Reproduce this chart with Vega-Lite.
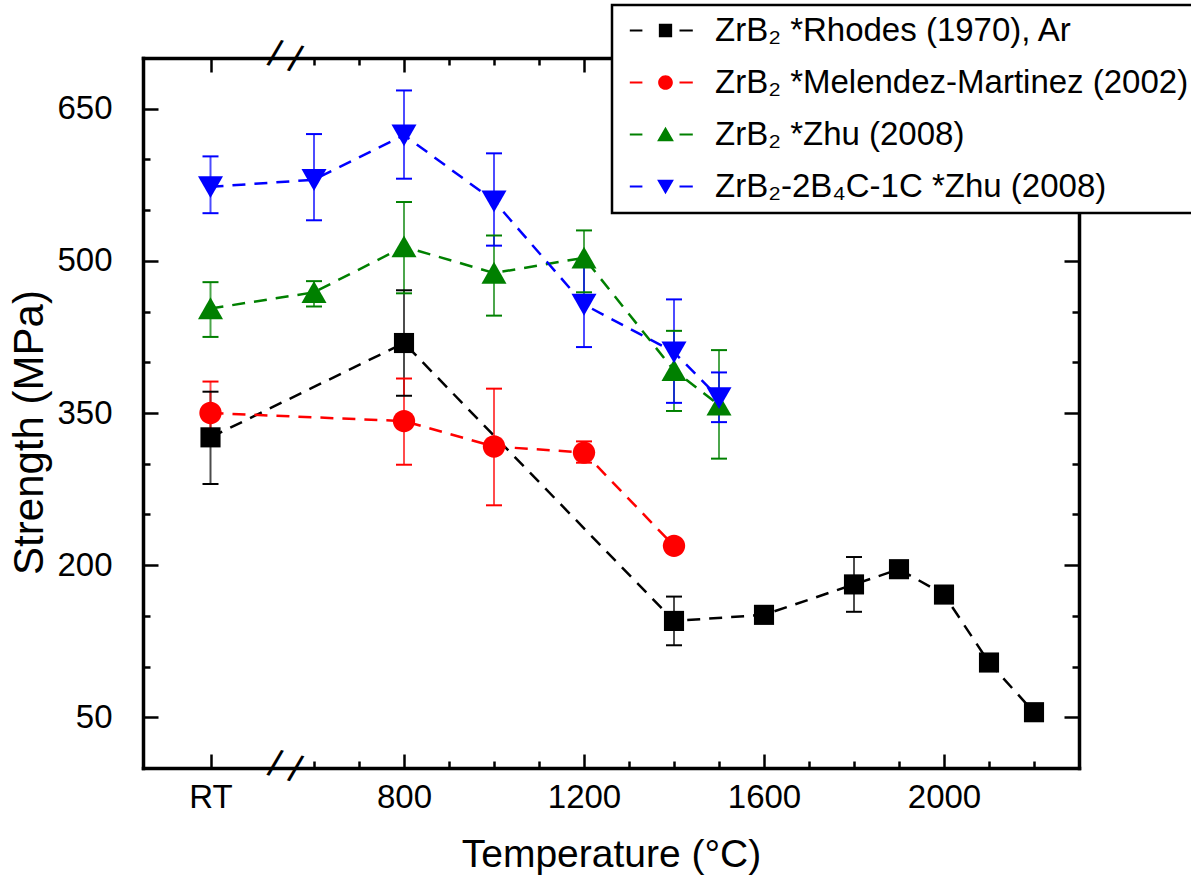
{
  "$schema": "https://vega.github.io/schema/vega-lite/v6.json",
  "width": 936,
  "height": 710,
  "autosize": {"type": "none"},
  "padding": {"left": 143, "top": 58, "right": 112, "bottom": 111},
  "background": "white",
  "config": {"view": {"stroke": null}, "font": "Liberation Sans"},
  "data": {"values": [
    {"series": "ZrB₂ *Rhodes (1970), Ar", "T": 370, "MPa": 326, "lo": 280, "hi": 371},
    {"series": "ZrB₂ *Rhodes (1970), Ar", "T": 800, "MPa": 419, "lo": 367, "hi": 471},
    {"series": "ZrB₂ *Rhodes (1970), Ar", "T": 1400, "MPa": 145, "lo": 121, "hi": 169},
    {"series": "ZrB₂ *Rhodes (1970), Ar", "T": 1600, "MPa": 151, "lo": null, "hi": null},
    {"series": "ZrB₂ *Rhodes (1970), Ar", "T": 1800, "MPa": 181, "lo": 154, "hi": 208},
    {"series": "ZrB₂ *Rhodes (1970), Ar", "T": 1900, "MPa": 196, "lo": null, "hi": null},
    {"series": "ZrB₂ *Rhodes (1970), Ar", "T": 2000, "MPa": 171, "lo": null, "hi": null},
    {"series": "ZrB₂ *Rhodes (1970), Ar", "T": 2100, "MPa": 104, "lo": null, "hi": null},
    {"series": "ZrB₂ *Rhodes (1970), Ar", "T": 2200, "MPa": 55, "lo": null, "hi": null},
    {"series": "ZrB₂ *Melendez-Martinez (2002)", "T": 370, "MPa": 350, "lo": 319, "hi": 381},
    {"series": "ZrB₂ *Melendez-Martinez (2002)", "T": 800, "MPa": 342, "lo": 299, "hi": 384},
    {"series": "ZrB₂ *Melendez-Martinez (2002)", "T": 1000, "MPa": 317, "lo": 259, "hi": 374},
    {"series": "ZrB₂ *Melendez-Martinez (2002)", "T": 1200, "MPa": 311, "lo": 301, "hi": 322},
    {"series": "ZrB₂ *Melendez-Martinez (2002)", "T": 1400, "MPa": 219, "lo": null, "hi": null},
    {"series": "ZrB₂ *Zhu (2008)", "T": 370, "MPa": 453, "lo": 425, "hi": 479},
    {"series": "ZrB₂ *Zhu (2008)", "T": 600, "MPa": 469, "lo": 455, "hi": 480},
    {"series": "ZrB₂ *Zhu (2008)", "T": 800, "MPa": 514, "lo": 468, "hi": 558},
    {"series": "ZrB₂ *Zhu (2008)", "T": 1000, "MPa": 488, "lo": 446, "hi": 525},
    {"series": "ZrB₂ *Zhu (2008)", "T": 1200, "MPa": 503, "lo": 469, "hi": 530},
    {"series": "ZrB₂ *Zhu (2008)", "T": 1400, "MPa": 392, "lo": 352, "hi": 431},
    {"series": "ZrB₂ *Zhu (2008)", "T": 1500, "MPa": 358, "lo": 305, "hi": 412},
    {"series": "ZrB₂-2B₄C-1C *Zhu (2008)", "T": 370, "MPa": 573, "lo": 547, "hi": 603},
    {"series": "ZrB₂-2B₄C-1C *Zhu (2008)", "T": 600, "MPa": 580, "lo": 540, "hi": 625},
    {"series": "ZrB₂-2B₄C-1C *Zhu (2008)", "T": 800, "MPa": 624, "lo": 581, "hi": 668},
    {"series": "ZrB₂-2B₄C-1C *Zhu (2008)", "T": 1000, "MPa": 559, "lo": 515, "hi": 606},
    {"series": "ZrB₂-2B₄C-1C *Zhu (2008)", "T": 1200, "MPa": 457, "lo": 415, "hi": 499},
    {"series": "ZrB₂-2B₄C-1C *Zhu (2008)", "T": 1400, "MPa": 410, "lo": 360, "hi": 462},
    {"series": "ZrB₂-2B₄C-1C *Zhu (2008)", "T": 1500, "MPa": 365, "lo": 341, "hi": 390}
  ]},
  "resolve": {
    "axis": {"x": "independent", "y": "independent"},
    "scale": {"color": "independent", "shape": "independent"}
  },
  "layer": [
    {
      "mark": {"type": "line", "strokeDash": [13, 9], "strokeWidth": 2.5},
      "encoding": {
        "x": {"field": "T", "type": "quantitative",
          "scale": {"domain": [220, 2300], "nice": false, "zero": false},
          "axis": {"orient": "bottom", "values": [370, 600, 700, 800, 900, 1000, 1100, 1200, 1300, 1400, 1500, 1600, 1700, 1800, 1900, 2000, 2100, 2200],
            "labelExpr": "datum.value == 370 ? 'RT' : (datum.value % 400 == 0 ? '' + datum.value : '')",
            "labelFont": "Liberation Sans", "labelFontSize": 33, "labelColor": "black", "labelPadding": 27,
            "labelFlush": false, "labelOverlap": false,
            "tickSize": {"condition": {"test": "datum.value == 370 || datum.value % 400 == 0", "value": -14}, "value": -7},
            "tickColor": "black", "tickWidth": 2.5,
            "domainColor": "black", "domainWidth": 3.5, "domainCap": "square", "grid": false,
            "title": "Temperature (°C)", "titleFont": "Liberation Sans", "titleFontSize": 39, "titleFontWeight": "normal", "titleColor": "black", "titlePadding": 14, "zindex": 1}},
        "y": {"field": "MPa", "type": "quantitative",
          "scale": {"domain": [0, 700], "nice": false, "zero": false},
          "axis": {"orient": "left", "values": [50, 100, 150, 200, 250, 300, 350, 400, 450, 500, 550, 600, 650],
            "labelExpr": "(datum.value - 50) % 150 == 0 ? '' + datum.value : ''",
            "labelFont": "Liberation Sans", "labelFontSize": 33, "labelColor": "black", "labelPadding": 46,
            "labelFlush": false, "labelOverlap": false,
            "tickSize": {"condition": {"test": "(datum.value - 50) % 150 == 0", "value": -15}, "value": -7},
            "tickColor": "black", "tickWidth": 2.5,
            "domainColor": "black", "domainWidth": 3.5, "domainCap": "square", "grid": false,
            "title": "Strength (MPa)", "titleFont": "Liberation Sans", "titleFontSize": 42, "titleFontWeight": "normal", "titleColor": "black", "titlePadding": 5, "titleY": 374, "zindex": 1}},
        "color": {"field": "series", "type": "nominal",
          "scale": {"domain": ["ZrB₂ *Rhodes (1970), Ar", "ZrB₂ *Melendez-Martinez (2002)", "ZrB₂ *Zhu (2008)", "ZrB₂-2B₄C-1C *Zhu (2008)"], "range": ["#000000", "#ff0000", "#008000", "#0000ff"]},
          "legend": null}
      }
    },
    {
      "transform": [{"filter": "datum.lo != null"}],
      "mark": {"type": "rule", "strokeWidth": 2, "opacity": 0.7},
      "encoding": {
        "x": {"field": "T", "type": "quantitative", "axis": null},
        "y": {"field": "lo", "type": "quantitative", "axis": null},
        "y2": {"field": "hi"},
        "color": {"field": "series", "type": "nominal",
          "scale": {"domain": ["ZrB₂ *Rhodes (1970), Ar", "ZrB₂ *Melendez-Martinez (2002)", "ZrB₂ *Zhu (2008)", "ZrB₂-2B₄C-1C *Zhu (2008)"], "range": ["#000000", "#ff0000", "#008000", "#0000ff"]},
          "legend": null}
      }
    },
    {
      "transform": [{"filter": "datum.lo != null"}],
      "mark": {"type": "tick", "orient": "horizontal", "size": 16, "thickness": 2, "opacity": 1},
      "encoding": {
        "x": {"field": "T", "type": "quantitative", "axis": null},
        "y": {"field": "lo", "type": "quantitative", "axis": null},
        "color": {"field": "series", "type": "nominal",
          "scale": {"domain": ["ZrB₂ *Rhodes (1970), Ar", "ZrB₂ *Melendez-Martinez (2002)", "ZrB₂ *Zhu (2008)", "ZrB₂-2B₄C-1C *Zhu (2008)"], "range": ["#000000", "#ff0000", "#008000", "#0000ff"]},
          "legend": null}
      }
    },
    {
      "transform": [{"filter": "datum.hi != null"}],
      "mark": {"type": "tick", "orient": "horizontal", "size": 16, "thickness": 2, "opacity": 1},
      "encoding": {
        "x": {"field": "T", "type": "quantitative", "axis": null},
        "y": {"field": "hi", "type": "quantitative", "axis": null},
        "color": {"field": "series", "type": "nominal",
          "scale": {"domain": ["ZrB₂ *Rhodes (1970), Ar", "ZrB₂ *Melendez-Martinez (2002)", "ZrB₂ *Zhu (2008)", "ZrB₂-2B₄C-1C *Zhu (2008)"], "range": ["#000000", "#ff0000", "#008000", "#0000ff"]},
          "legend": null}
      }
    },
    {
      "mark": {"type": "point", "filled": true, "size": 500, "opacity": 1, "strokeWidth": 0},
      "encoding": {
        "x": {"field": "T", "type": "quantitative",
          "axis": {"orient": "top", "values": [370, 600, 700, 800, 900, 1000, 1100, 1200, 1300, 1400, 1500, 1600, 1700, 1800, 1900, 2000, 2100, 2200],
            "labels": false, "title": null,
            "tickSize": {"condition": {"test": "datum.value == 370 || datum.value % 400 == 0", "value": -14}, "value": -7},
            "tickColor": "black", "tickWidth": 2.5,
            "domainColor": "black", "domainWidth": 3.5, "domainCap": "square", "grid": false, "zindex": 1}},
        "y": {"field": "MPa", "type": "quantitative",
          "axis": {"orient": "right", "values": [50, 100, 150, 200, 250, 300, 350, 400, 450, 500, 550, 600, 650],
            "labels": false, "title": null,
            "tickSize": {"condition": {"test": "(datum.value - 50) % 150 == 0", "value": -15}, "value": -7},
            "tickColor": "black", "tickWidth": 2.5,
            "domainColor": "black", "domainWidth": 3.5, "domainCap": "square", "grid": false, "zindex": 1}},
        "color": {"field": "series", "type": "nominal",
          "scale": {"domain": ["ZrB₂ *Rhodes (1970), Ar", "ZrB₂ *Melendez-Martinez (2002)", "ZrB₂ *Zhu (2008)", "ZrB₂-2B₄C-1C *Zhu (2008)"], "range": ["#000000", "#ff0000", "#008000", "#0000ff"]},
          "legend": null},
        "shape": {"field": "series", "type": "nominal",
          "scale": {"domain": ["ZrB₂ *Rhodes (1970), Ar", "ZrB₂ *Melendez-Martinez (2002)", "ZrB₂ *Zhu (2008)", "ZrB₂-2B₄C-1C *Zhu (2008)"],
            "range": ["M-0.9,-0.9H0.9V0.9H-0.9Z", "M-1,0A1,1,0,1,0,1,0A1,1,0,1,0,-1,0Z", "M0,-1L1.12,0.95L-1.12,0.95Z", "M0,1L1.12,-0.95L-1.12,-0.95Z"]},
          "legend": null}
      }
    },
    {
      "mark": {"type": "point", "filled": true, "opacity": 0},
      "encoding": {
        "x": {"field": "T", "type": "quantitative", "axis": null},
        "y": {"field": "MPa", "type": "quantitative", "axis": null},
        "color": {"field": "series", "type": "nominal",
          "scale": {"domain": ["ZrB₂ *Rhodes (1970), Ar", "ZrB₂ *Melendez-Martinez (2002)", "ZrB₂ *Zhu (2008)", "ZrB₂-2B₄C-1C *Zhu (2008)"], "range": ["#000000", "#ff0000", "#008000", "#0000ff"]},
          "legend": {"orient": "none", "legendX": 469, "legendY": -53, "title": null, "labelFont": "Liberation Sans", "labelFontSize": 33, "labelColor": "black", "labelLimit": 800, "symbolSize": 196, "symbolOffset": 28, "labelOffset": 33, "rowPadding": 18, "padding": 9, "strokeColor": "black", "fillColor": "white", "symbolStrokeWidth": 0, "symbolOpacity": 1, "zindex": 2,
            "encode": {"legend": {"update": {"strokeWidth": {"value": 2.5}}}}}},
        "shape": {"field": "series", "type": "nominal",
          "scale": {"domain": ["ZrB₂ *Rhodes (1970), Ar", "ZrB₂ *Melendez-Martinez (2002)", "ZrB₂ *Zhu (2008)", "ZrB₂-2B₄C-1C *Zhu (2008)"],
            "range": [
              "M-5.1,-0.15H-3.3V0.15H-5.1Z M-0.95,-0.95H0.95V0.95H-0.95Z M2,-0.15H3.9V0.15H2Z",
              "M-5.1,-0.15H-3.3V0.15H-5.1Z M-1.05,0A1.05,1.05,0,1,0,1.05,0A1.05,1.05,0,1,0,-1.05,0Z M2,-0.15H3.9V0.15H2Z",
              "M-5.1,-0.15H-3.3V0.15H-5.1Z M0,-1.1L1.2,0.95L-1.2,0.95Z M2,-0.15H3.9V0.15H2Z",
              "M-5.1,-0.15H-3.3V0.15H-5.1Z M0,1.1L1.2,-0.95L-1.2,-0.95Z M2,-0.15H3.9V0.15H2Z"]},
          "legend": {"orient": "none", "legendX": 469, "legendY": -53, "title": null, "labelFont": "Liberation Sans", "labelFontSize": 33, "labelColor": "black", "labelLimit": 800, "symbolSize": 196, "symbolOffset": 28, "labelOffset": 33, "rowPadding": 18, "padding": 9, "strokeColor": "black", "fillColor": "white", "symbolStrokeWidth": 0, "symbolOpacity": 1, "zindex": 2,
            "encode": {"legend": {"update": {"strokeWidth": {"value": 2.5}}}}}}
      }
    },
    {
      "data": {"values": [{}]},
      "mark": {"type": "text", "text": "/ /", "font": "Liberation Sans", "fontSize": 38, "fontWeight": "normal", "angle": 15, "align": "center", "baseline": "middle", "color": "black"},
      "encoding": {
        "x": {"datum": 535, "type": "quantitative", "axis": null},
        "y": {"datum": 0, "type": "quantitative", "axis": null}
      }
    },
    {
      "data": {"values": [{}]},
      "mark": {"type": "text", "text": "/ /", "font": "Liberation Sans", "fontSize": 38, "fontWeight": "normal", "angle": 15, "align": "center", "baseline": "middle", "color": "black"},
      "encoding": {
        "x": {"datum": 535, "type": "quantitative", "axis": null},
        "y": {"datum": 700, "type": "quantitative", "axis": null}
      }
    }
  ]
}
